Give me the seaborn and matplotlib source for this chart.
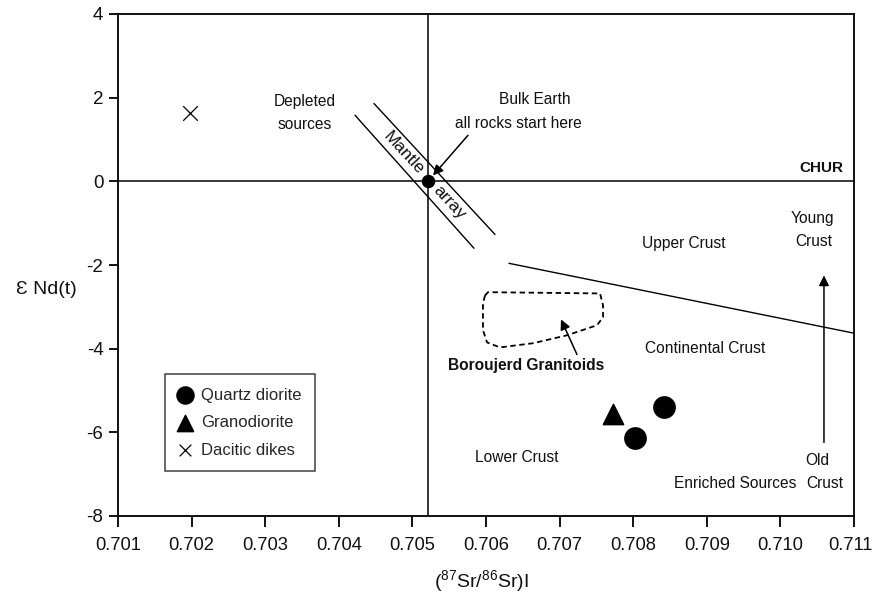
import matplotlib
matplotlib.use("Agg")
import matplotlib.pyplot as plt
import matplotlib.transforms as mtransforms
import seaborn as sns
import pandas as pd

sns.set_theme(style="white")
plt.rcParams['font.family'] = ['Liberation Sans', 'DejaVu Sans']
plt.rcParams['mathtext.fontset'] = 'custom'
plt.rcParams['mathtext.rm'] = 'Liberation Sans'
plt.rcParams['mathtext.it'] = 'Liberation Sans'

FONT = ['Liberation Sans', 'DejaVu Sans']

# ---- data ----
quartz_x = [0.70802, 0.70842]
quartz_y = [-6.14, -5.40]
grano_x = [0.70773]
grano_y = [-5.57]
dacite_x = [0.70198]
dacite_y = [1.63]

bulk_x, bulk_y = 0.70521, 0.0
chur_y = 0.0

mantle_upper_x = [0.704478, 0.706122]
mantle_upper_y = [1.86, -1.27]
mantle_lower_x = [0.704220, 0.705837]
mantle_lower_y = [1.58, -1.60]

crust_line_x = [0.706312, 0.7110]
crust_line_y = [-1.96, -3.63]

field_x = [0.705986, 0.706027, 0.707549, 0.707590, 0.707590, 0.707508, 0.707101,
           0.706639, 0.706190, 0.706014, 0.705959, 0.705959]
field_y = [-2.73, -2.65, -2.68, -2.96, -3.25, -3.44, -3.68,
           -3.87, -3.97, -3.85, -3.56, -2.92]

xticks = [0.701, 0.702, 0.703, 0.704, 0.705, 0.706, 0.707, 0.708, 0.709, 0.710, 0.711]
yticks = [4, 2, 0, -2, -4, -6, -8]

fig = plt.figure(figsize=(8.73, 5.97), dpi=100)
ax = fig.add_axes([118 / 873, 1 - 516 / 597, (854 - 118) / 873, (516 - 14) / 597])

df_q = pd.DataFrame({"x": quartz_x, "y": quartz_y})
df_g = pd.DataFrame({"x": grano_x, "y": grano_y})
df_d = pd.DataFrame({"x": dacite_x, "y": dacite_y})

sns.scatterplot(data=df_q, x="x", y="y", marker="o", s=230, color="black",
                edgecolor="black", ax=ax, label="Quartz diorite", zorder=5)
sns.scatterplot(data=df_g, x="x", y="y", marker="^", s=210, color="black",
                edgecolor="black", ax=ax, label="Granodiorite", zorder=5)
sns.scatterplot(data=df_d, x="x", y="y", marker="x", s=110, color="black",
                linewidth=0.9, ax=ax, label="Dacitic dikes", zorder=5)

# reference lines
ax.axhline(chur_y, color="black", lw=1.1, zorder=2)
ax.axvline(bulk_x, color="black", lw=1.1, zorder=2)
ax.plot(mantle_upper_x, mantle_upper_y, color="black", lw=1.0)
ax.plot(mantle_lower_x, mantle_lower_y, color="black", lw=1.0)
ax.plot(crust_line_x, crust_line_y, color="black", lw=1.0)
ax.plot(field_x + field_x[:1], field_y + field_y[:1], color="black", lw=1.3,
        ls=(0, (3, 2)))
ax.scatter([bulk_x], [bulk_y], s=75, color="black", zorder=6)

arrow = dict(arrowstyle="-|>", color="black", lw=1.1, mutation_scale=15,
             shrinkA=0, shrinkB=0)

# annotations
fs = 11.2
def note(x, y, s, **kw):
    kw.setdefault("fontsize", fs)
    kw.setdefault("family", FONT)
    ax.text(x, y, s, ha=kw.pop("ha", "center"), va=kw.pop("va", "center"),
            color="#111111", **kw)

note(0.703541, 1.91, "Depleted")
note(0.703541, 1.36, "sources")
note(0.706666, 1.96, "Bulk Earth")
note(0.706435, 1.39, "all rocks start here")
ax.annotate("", xy=(0.705280, 0.14), xytext=(0.705755, 1.10), arrowprops=arrow)
note(0.704886, 0.67, "Mantle", rotation=-47.3, rotation_mode="anchor", fontsize=12.5)
note(0.705497, -0.50, "array", rotation=-47.3, rotation_mode="anchor", fontsize=12.5)
note(0.710851, 0.31, "CHUR", ha="right", fontsize=11, fontweight="bold")
note(0.708690, -1.48, "Upper Crust")
note(0.710440, -0.88, "Young")
note(0.710450, -1.43, "Crust")
note(0.708976, -3.99, "Continental Crust")
note(0.706543, -4.40, "Boroujerd Granitoids", fontweight="bold")
ax.annotate("", xy=(0.707019, -3.30), xytext=(0.707236, -4.14), arrowprops=arrow)
note(0.706421, -6.60, "Lower Crust")
note(0.709383, -7.22, "Enriched Sources")
note(0.710504, -6.67, "Old")
note(0.710600, -7.22, "Crust")
ax.annotate("", xy=(0.710592, -2.25), xytext=(0.710592, -6.24), arrowprops=arrow)

# axes
ax.set_xlim(0.701, 0.711)
ax.set_ylim(-8, 4)
ax.set_xticks(xticks)
ax.set_xticklabels([f"{t:.3f}" for t in xticks], family=FONT, fontsize=13.2)
ax.set_yticks(yticks)
ax.set_yticklabels([str(t) for t in yticks], family=FONT, fontsize=13.5)
ax.tick_params(axis="x", direction="out", length=8, width=1.4, colors="#111111",
               bottom=True, top=False, pad=7)
ax.tick_params(axis="y", direction="out", length=6.5, width=1.4, colors="#111111",
               left=True, right=False, pad=4)
# keep the last x tick label inside the canvas
last = ax.get_xticklabels()[-1]
last.set_transform(last.get_transform() +
                   mtransforms.ScaledTranslation(-4 / 100, 0, fig.dpi_scale_trans))
for sp in ax.spines.values():
    sp.set_color("#111111")
    sp.set_linewidth(1.4)
ax.set_xlabel(r"($^{87}$Sr/$^{86}$Sr)I", fontsize=14, family=FONT, color="#111111",
              va="center")
ax.xaxis.set_label_coords((481 - 118) / 736, -(581 - 516) / 502)
ax.set_ylabel("Ɛ Nd(t)", fontsize=14, family=FONT, rotation=0, ha="center",
              va="center", color="#111111")
ax.yaxis.set_label_coords(-(118 - 46) / 736, (516 - 290) / 502)

leg = ax.legend(loc="lower left", bbox_to_anchor=(0.0639, 0.0896), frameon=True,
                fancybox=False, edgecolor="#111111", prop={"family": FONT, "size": 12},
                handletextpad=0.5, borderpad=0.8, labelspacing=0.75,
                handlelength=0.85, markerscale=0.8, borderaxespad=0)
leg.get_frame().set_linewidth(1.1)

fig.savefig("out.png", dpi=100, facecolor="white")
